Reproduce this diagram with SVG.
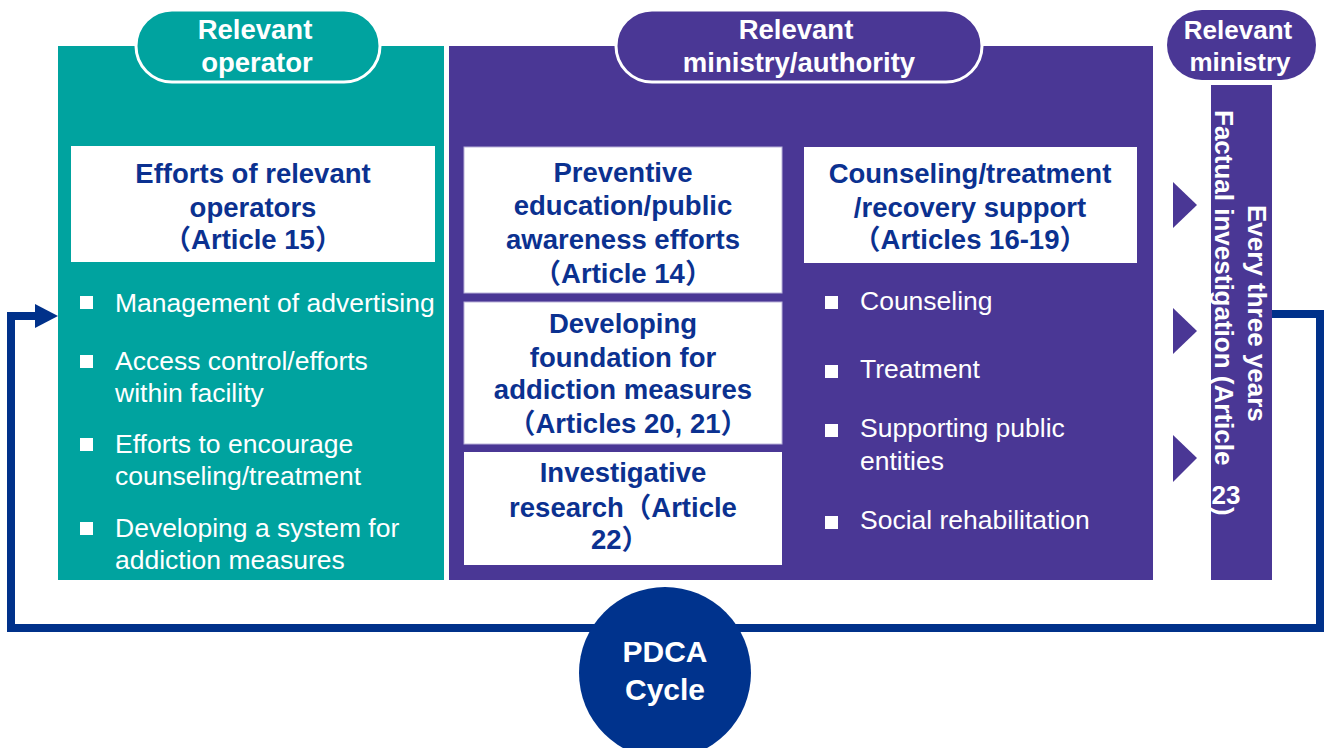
<svg xmlns="http://www.w3.org/2000/svg" width="1327" height="748" viewBox="0 0 1327 748">
<style>
.teal{fill:#00A39F}
.purple{fill:#4A3795}
.box{fill:#ffffff}
.h{font-family:"Liberation Sans","Noto Sans CJK JP",Arial,sans-serif;font-weight:bold;font-size:27.5px;fill:#0B3190;text-anchor:middle}
.pill{font-family:"Liberation Sans",Arial,sans-serif;font-weight:bold;font-size:27.5px;fill:#ffffff;text-anchor:middle}
.b{font-family:"Liberation Sans",Arial,sans-serif;font-size:26.5px;fill:#ffffff}
.bul{fill:#ffffff}
.vt{font-family:"Liberation Sans","Noto Sans CJK JP",Arial,sans-serif;font-weight:bold;font-size:26px;fill:#ffffff}
.loop{fill:none;stroke:#00318A;stroke-width:8}
.tri{fill:#4A3795}
</style>
<rect width="1327" height="748" fill="#ffffff"/>

<g id="connectors">
<polyline class="loop" points="1272,314 1320,314 1320,628 11,628 11,316 37,316"/>
<polygon points="35,304 58,316 35,328" fill="#00318A"/>
<polygon class="tri" points="1173,182 1197,205 1173,228"/>
<polygon class="tri" points="1173,308 1197,331 1173,354"/>
<polygon class="tri" points="1173,435 1197,458 1173,482"/>
</g>

<g id="operator-panel">
<rect class="teal" x="58" y="46" width="386" height="534"/>
<rect class="teal" x="136" y="10" width="244" height="72" rx="36" stroke="#ffffff" stroke-width="3"/>
<text class="pill" x="255" y="39">Relevant</text>
<text class="pill" x="257" y="72">operator</text>
</g>

<g id="efforts-operators">
<rect class="box" x="71" y="146" width="364" height="116"/>
<text class="h" x="253" y="183">Efforts of relevant</text>
<text class="h" x="253" y="217">operators</text>
<text class="h" x="253" y="249">（Article 15）</text>
</g>

<g id="operator-bullets">
<rect class="bul" x="80" y="296" width="13" height="13"/>
<text class="b" x="115" y="312">Management of advertising</text>
<rect class="bul" x="80" y="355" width="13" height="13"/>
<text class="b" x="115" y="370">Access control/efforts</text>
<text class="b" x="115" y="402">within facility</text>
<rect class="bul" x="80" y="438" width="13" height="13"/>
<text class="b" x="115" y="453">Efforts to encourage</text>
<text class="b" x="115" y="485">counseling/treatment</text>
<rect class="bul" x="80" y="522" width="13" height="13"/>
<text class="b" x="115" y="537">Developing a system for</text>
<text class="b" x="115" y="569">addiction measures</text>
</g>

<g id="ministry-panel">
<rect class="purple" x="449" y="46" width="704" height="534"/>
<rect class="purple" x="616" y="10" width="366" height="72" rx="36" stroke="#ffffff" stroke-width="3"/>
<text class="pill" x="796" y="39">Relevant</text>
<text class="pill" x="799" y="72">ministry/authority</text>
</g>

<g id="preventive">
<rect class="box" x="464" y="147" width="318" height="146" stroke="#B9B2DA" stroke-width="1"/>
<text class="h" x="623" y="182">Preventive</text>
<text class="h" x="623" y="215">education/public</text>
<text class="h" x="623" y="249">awareness efforts</text>
<text class="h" x="623" y="283">（Article 14）</text>
</g>

<g id="foundation">
<rect class="box" x="464" y="302" width="318" height="142" stroke="#B9B2DA" stroke-width="1"/>
<text class="h" x="623" y="333">Developing</text>
<text class="h" x="623" y="367">foundation for</text>
<text class="h" x="623" y="399">addiction measures</text>
<text class="h" x="628" y="433">（Articles 20, 21）</text>
</g>

<g id="research">
<rect class="box" x="464" y="452" width="318" height="113"/>
<text class="h" x="623" y="482">Investigative</text>
<text class="h" x="623" y="517">research（Article</text>
<text class="h" x="620" y="549">22）</text>
</g>

<g id="counseling">
<rect class="box" x="804" y="147" width="333" height="116"/>
<text class="h" x="970" y="183">Counseling/treatment</text>
<text class="h" x="970" y="217">/recovery support</text>
<text class="h" x="970" y="249">（Articles 16-19）</text>
</g>

<g id="counseling-bullets">
<rect class="bul" x="825" y="296" width="13" height="13"/>
<text class="b" x="860" y="310">Counseling</text>
<rect class="bul" x="825" y="365" width="13" height="13"/>
<text class="b" x="860" y="378">Treatment</text>
<rect class="bul" x="825" y="424" width="13" height="13"/>
<text class="b" x="860" y="437">Supporting public</text>
<text class="b" x="860" y="470">entities</text>
<rect class="bul" x="825" y="516" width="13" height="13"/>
<text class="b" x="860" y="529">Social rehabilitation</text>
</g>

<g id="relevant-ministry">
<rect class="purple" x="1167" y="10" width="149" height="70" rx="35"/>
<text class="pill" x="1238" y="39" style="font-size:26px">Relevant</text>
<text class="pill" x="1240" y="71" style="font-size:26px">ministry</text>
</g>

<g id="factual-investigation">
<rect class="purple" x="1211" y="85" width="61" height="495"/>
<g transform="translate(1248,0) rotate(90)">
<text class="vt" x="205" y="0">Every three years</text>
<text class="vt" x="110" y="33">Factual investigation (Article</text>
<text class="vt" x="507" y="33">)</text>
</g>
<text class="vt" x="1226" y="504" text-anchor="middle">23</text>
</g>

<g id="pdca">
<circle cx="665" cy="673" r="86" fill="#00338D"/>
<text class="pill" x="665" y="662" style="font-size:30px">PDCA</text>
<text class="pill" x="665" y="700" style="font-size:30px">Cycle</text>
</g>
</svg>
